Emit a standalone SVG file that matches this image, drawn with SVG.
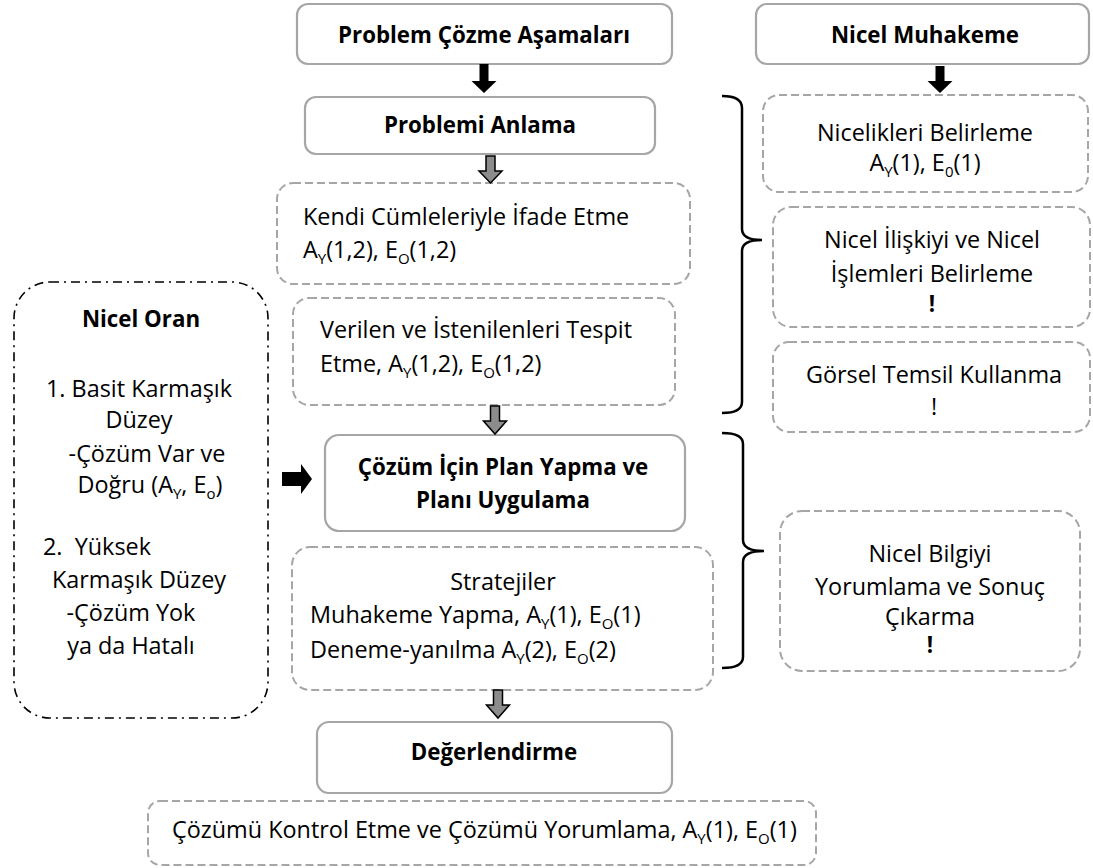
<svg xmlns="http://www.w3.org/2000/svg" width="1093" height="868" viewBox="0 0 1093 868">
  <style>
    .solid { fill: #ffffff; stroke: #a6a6a6; stroke-width: 2.2; }
    .dash { fill: #ffffff; stroke: #a6a6a6; stroke-width: 2; stroke-dasharray: 8 4; }
    .dashdot { fill: none; stroke: #000000; stroke-width: 1.6; stroke-dasharray: 9 5 2 5; }
    .t { font-family: "Open Sans", "Liberation Sans", sans-serif; font-size: 23.4px; fill: #000000; }
    .b { font-weight: bold; font-size: 22.3px; }
    .c { text-anchor: middle; }
    .sub { font-size: 15px; }
    .blk { fill: #000000; }
    .gry { fill: #8c8c8c; stroke: #000000; stroke-width: 1.5; }
    .brace { fill: none; stroke: #000000; stroke-width: 2.5; }
  </style>

  <!-- left panel: quantitative ratio levels -->
  <g id="nicel-oran">
    <rect class="dashdot" x="14" y="282" width="254" height="436" rx="36"/>
    <text class="t b c" x="141" y="327">Nicel Oran</text>
    <text class="t c" x="139" y="397">1. Basit Karmaşık</text>
    <text class="t c" x="139" y="428">Düzey</text>
    <text class="t c" x="147" y="462">-Çözüm Var ve</text>
    <text class="t c" x="150" y="493">Doğru (A<tspan class="sub" dy="6">Y</tspan><tspan dy="-6">, E</tspan><tspan class="sub" dy="6">o</tspan><tspan dy="-6">)</tspan></text>
    <text class="t" x="43" y="555" xml:space="preserve">2.  Yüksek</text>
    <text class="t c" x="139" y="588">Karmaşık Düzey</text>
    <text class="t c" x="131" y="621">-Çözüm Yok</text>
    <text class="t c" x="131" y="654">ya da Hatalı</text>
  </g>

  <!-- main column: problem solving stages -->
  <g id="problem-cozme">
    <rect class="solid" x="297" y="4" width="375" height="60" rx="11"/>
    <text class="t b c" x="484" y="43">Problem Çözme Aşamaları</text>
  </g>
  <g id="problemi-anlama">
    <rect class="solid" x="305" y="97" width="350" height="57" rx="11"/>
    <text class="t b c" x="480" y="133">Problemi Anlama</text>
  </g>
  <g id="kendi-cumleleri">
    <rect class="dash" x="277" y="183" width="413" height="101" rx="16"/>
    <text class="t" x="303" y="225">Kendi Cümleleriyle İfade Etme</text>
    <text class="t" x="303" y="258">A<tspan class="sub" dy="6">Y</tspan><tspan dy="-6">(1,2), E</tspan><tspan class="sub" dy="6">O</tspan><tspan dy="-6">(1,2)</tspan></text>
  </g>
  <g id="verilen-istenilen">
    <rect class="dash" x="293" y="298" width="382" height="107" rx="16"/>
    <text class="t" x="320" y="338">Verilen ve İstenilenleri Tespit</text>
    <text class="t" x="320" y="372">Etme, A<tspan class="sub" dy="6">Y</tspan><tspan dy="-6">(1,2), E</tspan><tspan class="sub" dy="6">O</tspan><tspan dy="-6">(1,2)</tspan></text>
  </g>
  <g id="plan-yapma">
    <rect class="solid" x="325" y="435" width="360" height="96" rx="14"/>
    <text class="t b c" x="503" y="475">Çözüm İçin Plan Yapma ve</text>
    <text class="t b c" x="503" y="508">Planı Uygulama</text>
  </g>
  <g id="stratejiler">
    <rect class="dash" x="292" y="547" width="421" height="143" rx="18"/>
    <text class="t c" x="503" y="590">Stratejiler</text>
    <text class="t" x="310" y="623">Muhakeme Yapma, A<tspan class="sub" dy="6">Y</tspan><tspan dy="-6">(1), E</tspan><tspan class="sub" dy="6">O</tspan><tspan dy="-6">(1)</tspan></text>
    <text class="t" x="310" y="658">Deneme-yanılma A<tspan class="sub" dy="6">Y</tspan><tspan dy="-6">(2), E</tspan><tspan class="sub" dy="6">O</tspan><tspan dy="-6">(2)</tspan></text>
  </g>
  <g id="degerlendirme">
    <rect class="solid" x="317" y="722" width="355" height="71" rx="12"/>
    <text class="t b c" x="494" y="760">Değerlendirme</text>
  </g>
  <g id="cozumu-kontrol">
    <rect class="dash" x="148" y="801" width="668" height="64" rx="12"/>
    <text class="t" x="172" y="838">Çözümü Kontrol Etme ve Çözümü Yorumlama, A<tspan class="sub" dy="6">Y</tspan><tspan dy="-6">(1), E</tspan><tspan class="sub" dy="6">O</tspan><tspan dy="-6">(1)</tspan></text>
  </g>

  <!-- right column: quantitative reasoning -->
  <g id="nicel-muhakeme">
    <rect class="solid" x="756" y="4" width="333" height="60" rx="11"/>
    <text class="t b c" x="925" y="43">Nicel Muhakeme</text>
  </g>
  <g id="nicelikleri-belirleme">
    <rect class="dash" x="763" y="95" width="325" height="97" rx="16"/>
    <text class="t c" x="925" y="141">Nicelikleri Belirleme</text>
    <text class="t c" x="925" y="171">A<tspan class="sub" dy="6">Y</tspan><tspan dy="-6">(1), E</tspan><tspan class="sub" dy="6">0</tspan><tspan dy="-6">(1)</tspan></text>
  </g>
  <g id="nicel-iliski">
    <rect class="dash" x="773" y="207" width="317" height="120" rx="18"/>
    <text class="t c" x="932" y="248">Nicel İlişkiyi ve Nicel</text>
    <text class="t c" x="932" y="282">İşlemleri Belirleme</text>
    <text class="t b c" x="932" y="312">!</text>
  </g>
  <g id="gorsel-temsil">
    <rect class="dash" x="773" y="342" width="317" height="90" rx="16"/>
    <text class="t c" x="934" y="383">Görsel Temsil Kullanma</text>
    <text class="t c" x="934" y="415">!</text>
  </g>
  <g id="nicel-bilgi">
    <rect class="dash" x="780" y="511" width="300" height="160" rx="22"/>
    <text class="t c" x="930" y="562">Nicel Bilgiyi</text>
    <text class="t c" x="930" y="595">Yorumlama ve Sonuç</text>
    <text class="t c" x="930" y="625">Çıkarma</text>
    <text class="t b c" x="930" y="653">!</text>
  </g>

  <!-- connectors: block arrows and grouping braces -->
  <g id="connectors">
    <polygon class="blk" points="479.5,64 488.5,64 488.5,81 496.5,81 484,93 471.5,81 479.5,81"/>
    <polygon class="blk" points="935.5,66 944.5,66 944.5,81 952.5,81 940,93 927.5,81 935.5,81"/>
    <polygon class="blk" points="282,472 301,472 301,464 312,479 301,494 301,486 282,486"/>
    <polygon class="gry" points="486,156 495,156 495,171 502,171 490.5,183 479,171 486,171"/>
    <polygon class="gry" points="490.5,406 499.5,406 499.5,421 506.5,421 495,434 483.5,421 490.5,421"/>
    <polygon class="gry" points="493.5,690 502.5,690 502.5,705 509.5,705 498,718 486.5,705 493.5,705"/>
    <path class="brace" d="M722,96 Q742,96 742,108 L742,229 Q742,240 762,240 Q742,240 742,251 L742,402 Q742,413 722,413"/>
    <path class="brace" d="M722,433 Q743,433 743,444 L743,540 Q743,551 764,551 Q743,551 743,562 L743,657 Q743,668 722,668"/>
  </g>
</svg>
